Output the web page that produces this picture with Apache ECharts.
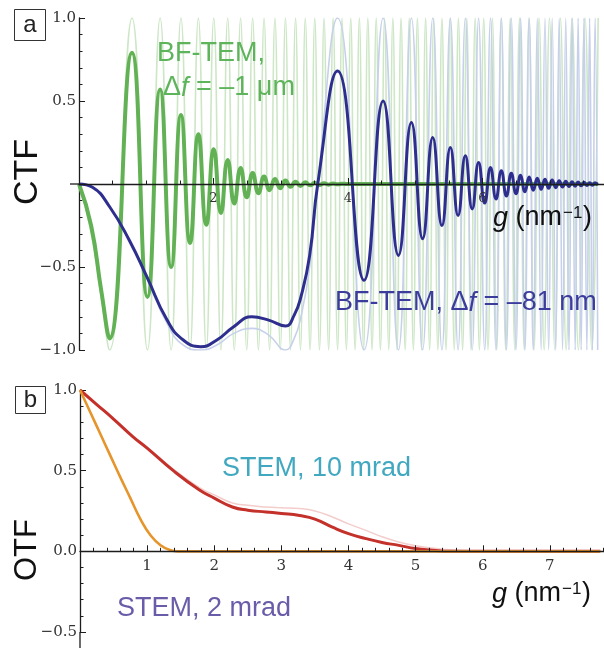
<!DOCTYPE html>
<html>
<head>
<meta charset="utf-8">
<script src="https://cdn.jsdelivr.net/npm/echarts@6/dist/echarts.min.js"></script>
<style>
html, body { margin: 0; padding: 0; background: #fff; }
#chart { width: 604px; height: 648px; }
</style>
</head>
<body>
<div id="chart"></div>
<script>
// ---- panel a: CTF vs g (nm^-1) ----
// green, df = -1 um : start of curve, then its maxima / minima
var gGreen = [0, 0.18, 0.33,
    0.454, 0.788, 1.018, 1.206, 1.370, 1.516, 1.651, 1.775, 1.893, 2.004,
    2.110, 2.211, 2.309, 2.403, 2.494, 2.582, 2.668, 2.752, 2.834, 2.914,
    2.993, 3.070, 3.145, 3.220, 3.293, 3.365, 3.436, 3.506, 3.576, 3.644,
    3.712, 3.779, 3.845, 3.911, 3.976, 4.041, 4.105, 4.169, 4.232, 4.295,
    4.358, 4.420, 4.482, 4.544, 4.606, 4.667, 4.728, 4.789, 4.850, 4.911,
    4.972, 5.032, 5.093, 5.154, 5.214, 5.275, 5.336, 5.397, 5.458, 5.519,
    5.580, 5.642, 5.704, 5.766, 5.828, 5.891, 5.954, 6.018, 6.082, 6.147,
    6.212, 6.279, 6.345, 6.413, 6.481, 6.551, 6.621, 6.693, 6.766, 6.841,
    6.917, 6.996, 7.076, 7.159, 7.244, 7.333, 7.426, 7.524, 7.627, 7.720];
var ctfGreen = [0, -0.25, -0.64,
    -0.93, 0.79, -0.68, 0.57, -0.50, 0.415, -0.355, 0.30, -0.245, 0.21,
    -0.175, 0.145, -0.118, 0.096, -0.08, 0.066, -0.055, 0.045, -0.037, 0.03,
    -0.025, 0.021, -0.017, 0.014, -0.012, 0.01, -0.008, 0.007, -0.006, 0.005,
    -0.004, 0.003, -0.002, 0.002, 0, 0, 0, 0, 0, 0,
    0, 0, 0, 0, 0, 0, 0, 0, 0, 0,
    0, 0, 0, 0, 0, 0, 0, 0, 0, 0,
    0, 0, 0, 0, 0, 0, 0, 0, 0, 0,
    0, 0, 0, 0, 0, 0, 0, 0, 0, 0,
    0, 0, 0, 0, 0, 0, 0, 0, 0, 0];
var ctfGreenFull = [0, -0.29, -0.68,
    -1, 1, -1, 1, -1, 1, -1, 1, -1, 1,
    -1, 1, -1, 1, -1, 1, -1, 1, -1, 1,
    -1, 1, -1, 1, -1, 1, -1, 1, -1, 1,
    -1, 1, -1, 1, -1, 1, -1, 1, -1, 1,
    -1, 1, -1, 1, -1, 1, -1, 1, -1, 1,
    -1, 1, -1, 1, -1, 1, -1, 1, -1, 1,
    -1, 1, -1, 1, -1, 1, -1, 1, -1, 1,
    -1, 1, -1, 1, -1, 1, -1, 1, -1, 1,
    -1, 1, -1, 1, -1, 1, -1, 1, -1, 1];

// blue, df = -81 nm
var gBlue = [0, 0.2, 0.46, 0.75, 1.01, 1.31, 1.55, 1.81, 2.05, 2.3, 2.57, 2.82, 3.07, 3.2, 3.3, 3.43, 3.55,
    3.845, 4.239, 4.522, 4.750, 4.943, 5.110, 5.260, 5.397, 5.522, 5.637,
    5.745, 5.847, 5.942, 6.033, 6.119, 6.201, 6.280, 6.356, 6.428, 6.498,
    6.566, 6.631, 6.694, 6.755, 6.815, 6.872, 6.929, 6.984, 7.036, 7.089,
    7.140, 7.190, 7.238, 7.286, 7.332, 7.378, 7.422, 7.467, 7.509, 7.552,
    7.593, 7.634, 7.674, 7.713];
var ctfBlue = [0, -0.02, -0.14, -0.34, -0.56, -0.82, -0.94, -0.98, -0.94, -0.86, -0.80, -0.82, -0.855, -0.79, -0.68, -0.43, 0,
    0.68, -0.58, 0.50, -0.43, 0.37, -0.33, 0.28, -0.25, 0.22, -0.19,
    0.17, -0.15, 0.13, -0.115, 0.10, -0.09, 0.08, -0.072, 0.065, -0.058,
    0.052, -0.047, 0.042, -0.038, 0.035, -0.032, 0.029, -0.026, 0.024, -0.022,
    0.02, -0.018, 0.017, -0.015, 0.014, -0.013, 0.012, -0.011, 0.01, -0.009,
    0.008, -0.008, 0.007, -0.006];
var ctfBlueFull = [0, -0.02, -0.14, -0.35, -0.57, -0.84, -0.97, -1.0, -0.97, -0.90, -0.87, -0.91, -1.0, -0.93, -0.80, -0.5, 0,
    1, -1, 1, -1, 1, -1, 1, -1, 1, -1,
    1, -1, 1, -1, 1, -1, 1, -1, 1, -1,
    1, -1, 1, -1, 1, -1, 1, -1, 1, -1,
    1, -1, 1, -1, 1, -1, 1, -1, 1, -1,
    1, -1, 1, -1];

// ---- panel b: OTF vs g ----
var gStem10 = [0, 0.25, 0.5, 0.79, 1.0, 1.39, 1.78, 2.0, 2.27, 2.5, 2.77, 3.0, 3.27, 3.5, 3.76, 4.0, 4.26, 4.5, 4.75, 5.0, 5.25, 5.5, 6.0, 7.75];
var otfStem10 = [1.0, 0.91, 0.82, 0.71, 0.64, 0.50, 0.38, 0.33, 0.275, 0.255, 0.244, 0.235, 0.222, 0.20, 0.15, 0.11, 0.079, 0.055, 0.037, 0.017, 0.007, 0, 0, 0];
var otfStem10Full = [1.0, 0.91, 0.82, 0.71, 0.645, 0.51, 0.395, 0.35, 0.30, 0.285, 0.275, 0.27, 0.265, 0.25, 0.213, 0.17, 0.13, 0.09, 0.058, 0.035, 0.02, 0.01, 0.002, 0];
var gStem2 = [0, 0.15, 0.3, 0.45, 0.6, 0.75, 0.9, 1.05, 1.2, 1.35, 1.45, 7.75];
var otfStem2 = [1, 0.865, 0.73, 0.595, 0.46, 0.33, 0.2, 0.1, 0.038, 0.006, 0, 0];

// tick labels
var ctfTicks = [-1, -0.5, 0.5, 1];
var ctfTickText = ['\u22121.0', '\u22120.5', '0.5', '1.0'];
var gTicksA = [2, 4, 6];
var otfTicks = [-0.5, 0, 0.5, 1];
var otfTickText = ['\u22120.5', '0.0', '0.5', '1.0'];
var gTicksB = [1, 2, 3, 4, 5, 6, 7];

function pairs(xs, ys) {
    return xs.map(function (x, i) { return [x, ys[i]]; });
}
function lookup(ticks, texts) {
    return function (v) {
        var i = ticks.indexOf(Math.round(v * 100) / 100);
        if (i < 0) return '';
        return texts ? texts[i] : String(ticks[i]);
    };
}

var axisColor = '#1c1c1c';
var tickFont = 'DejaVu Serif';
var sans = 'Liberation Sans, Arial, sans-serif';

function valueAxis(opt) {
    return {
        type: 'value',
        gridIndex: opt.grid,
        min: opt.min, max: opt.max, interval: opt.interval,
        offset: opt.offset || 0,
        z: opt.z || 0,
        axisLine: { show: true, onZero: false, lineStyle: { color: axisColor, width: 1.3 } },
        axisTick: { show: true, inside: true, length: 6, lineStyle: { color: axisColor, width: 1 } },
        minorTick: { show: true, splitNumber: opt.minor, length: 3.5, lineStyle: { color: axisColor, width: 1 } },
        splitLine: { show: false },
        axisLabel: {
            show: true, margin: opt.margin, fontFamily: tickFont, fontSize: opt.fontSize,
            color: '#333', formatter: opt.formatter
        }
    };
}

function line(xi, xs, ys, color, width, z) {
    return {
        type: 'line', xAxisIndex: xi, yAxisIndex: xi,
        data: pairs(xs, ys), smooth: 0.5, symbol: 'none', silent: true, z: z,
        lineStyle: { color: color, width: width }
    };
}

function text(x, y, str, size, color, extra) {
    var el = {
        type: 'text', x: x, y: y, z: 100,
        style: {
            text: str, fontSize: size, fontFamily: sans, fill: color,
            textAlign: 'left', textVerticalAlign: 'middle', align: 'left', verticalAlign: 'middle'
        }
    };
    if (extra) {
        for (var k in extra) el.style[k] = extra[k];
    }
    return el;
}

function rich(color, size) {
    return {
        n: { fontSize: size, fontFamily: sans, fill: color, color: color },
        i: { fontSize: size, fontFamily: sans, fontStyle: 'italic', fill: color, color: color }
    };
}

var green = '#62b255', greenText = '#5db45a';
var blue = '#2e2e8e', blueText = '#3c3c9c';

var option = {
    animation: false,
    backgroundColor: '#fff',
    grid: [
        { left: 79, right: -13, top: 18, bottom: 298, containLabel: false, outerBoundsMode: 'none' },
        { left: 80, right: -13, top: 390, bottom: 16, containLabel: false, outerBoundsMode: 'none' }
    ],
    xAxis: [
        valueAxis({ grid: 0, min: 0, max: 8, interval: 2, minor: 4, margin: 8, fontSize: 13, z: 5,
            offset: -166, formatter: lookup(gTicksA) }),
        valueAxis({ grid: 1, min: 0, max: 8, interval: 1, minor: 5, margin: 7, fontSize: 15, z: 5,
            offset: -80.7, formatter: lookup(gTicksB) })
    ],
    yAxis: [
        valueAxis({ grid: 0, min: -1, max: 1, interval: 0.5, minor: 5, margin: 3, fontSize: 15,
            formatter: lookup(ctfTicks, ctfTickText) }),
        valueAxis({ grid: 1, min: -0.5, max: 1, interval: 0.5, minor: 5, margin: 3, fontSize: 15,
            formatter: lookup(otfTicks, otfTickText) })
    ],
    series: [
        line(0, gGreen, ctfGreenFull, '#cde6c6', 1.6, 1),
        line(0, gBlue, ctfBlueFull, '#c6d0ea', 1.6, 1),
        line(0, gGreen, ctfGreen, green, 4, 3),
        line(0, gBlue, ctfBlue, blue, 3, 4),
        line(1, gStem10, otfStem10Full, '#f3cdcb', 1.5, 1),
        line(1, gStem10, otfStem10, '#c4302a', 3, 3),
        line(1, gStem2, otfStem2, '#e6952c', 2.6, 4)
    ],
    graphic: [
        // axis stubs beyond the plotted range, as in the figure
        { type: 'line', z: 100, shape: { x1: 80, y1: 632, x2: 80, y2: 648 },
          style: { stroke: axisColor, lineWidth: 1.3 } },
        { type: 'line', z: 100, shape: { x1: 70, y1: 184, x2: 79, y2: 184 },
          style: { stroke: axisColor, lineWidth: 1.3 } },
        { type: 'rect', z: 100, shape: { x: 14.5, y: 9.5, width: 31, height: 31 },
          style: { fill: '#fff', stroke: '#333', lineWidth: 1 } },
        text(30, 25, 'a', 24, '#222', { textAlign: 'center', align: 'center' }),
        { type: 'rect', z: 100, shape: { x: 15.5, y: 386.5, width: 30, height: 27 },
          style: { fill: '#fff', stroke: '#333', lineWidth: 1 } },
        text(30.5, 400, 'b', 24, '#222', { textAlign: 'center', align: 'center' }),

        { type: 'text', x: 28, y: 172, rotation: Math.PI / 2, z: 100,
          style: { text: 'CTF', fontSize: 34, fontFamily: sans, fill: '#111',
                   textAlign: 'center', textVerticalAlign: 'middle', align: 'center', verticalAlign: 'middle' } },
        { type: 'text', x: 27, y: 550, rotation: Math.PI / 2, z: 100,
          style: { text: 'OTF', fontSize: 31, fontFamily: sans, fill: '#111',
                   textAlign: 'center', textVerticalAlign: 'middle', align: 'center', verticalAlign: 'middle' } },

        text(157, 54, 'BF-TEM,', 27, greenText),
        text(163, 88, '{n|\u0394}{i|f}{n| = \u20131 \u03bcm}', 27, greenText, { rich: rich(greenText, 27) }),
        text(335, 303, '{n|BF-TEM, \u0394}{i|f}{n| = \u201381 nm}', 27, blueText, { rich: rich(blueText, 27) }),
        text(222, 469, 'STEM, 10 mrad', 27, '#41a8c0'),
        text(117, 609, 'STEM, 2 mrad', 27, '#6a5ca9'),

        text(493, 218, '{i|g}{n| (nm}', 27, '#111', { rich: rich('#111', 27) }),
        text(563, 213, '\u22121', 17, '#111'),
        text(583, 218, ')', 27, '#111'),
        text(492, 594, '{i|g}{n| (nm}', 27, '#111', { rich: rich('#111', 27) }),
        text(562, 589, '\u22121', 17, '#111'),
        text(582, 594, ')', 27, '#111')
    ]
};

var chart = echarts.init(document.getElementById('chart'));
chart.setOption(option);
</script>
</body>
</html>
